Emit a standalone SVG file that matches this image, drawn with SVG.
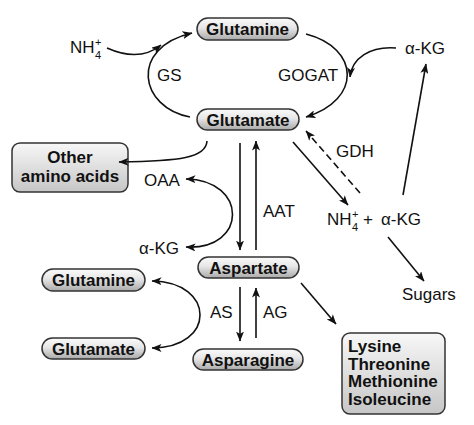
<svg xmlns="http://www.w3.org/2000/svg" width="474" height="425" viewBox="0 0 474 425">
<defs>
<linearGradient id="pillG" x1="0" y1="0" x2="0" y2="1">
<stop offset="0" stop-color="#fbfbfb"/>
<stop offset="0.45" stop-color="#e6e6e6"/>
<stop offset="1" stop-color="#a9a9a9"/>
</linearGradient>
<linearGradient id="boxG" x1="0" y1="0" x2="0" y2="1">
<stop offset="0" stop-color="#f7f7f7"/>
<stop offset="1" stop-color="#c6c6c6"/>
</linearGradient>
<marker id="ah" viewBox="0 0 10 8" refX="9.5" refY="4" markerWidth="10" markerHeight="8" markerUnits="userSpaceOnUse" orient="auto-start-reverse">
<path d="M0,0 L10,4 L0,8 L2.5,4 z" fill="#111"/>
</marker>
<style>
.pill{fill:url(#pillG);stroke:#333;stroke-width:1.5}
.box{fill:url(#boxG);stroke:#333;stroke-width:1.5}
.bt{font-family:"Liberation Sans",Arial,sans-serif;font-weight:bold;font-size:17px;fill:#111}
.t{font-family:"Liberation Sans",Arial,sans-serif;font-size:17px;fill:#111}
.s{font-family:"Liberation Sans",Arial,sans-serif;font-size:11px;fill:#111}
.c{fill:none;stroke:#111;stroke-width:1.6}
.a{marker-end:url(#ah)}
.d{marker-start:url(#ah);marker-end:url(#ah)}
</style>
</defs>
<rect width="474" height="425" fill="#fff"/>

<g id="glutamine-top"><rect class="pill" x="197" y="18" width="101" height="22" rx="11"/><text class="bt" x="247.5" y="35" text-anchor="middle">Glutamine</text></g>
<g id="glutamate-top"><rect class="pill" x="197" y="109" width="102" height="21" rx="10.5"/><text class="bt" x="248" y="126" text-anchor="middle">Glutamate</text></g>
<g id="aspartate"><rect class="pill" x="198" y="257" width="101" height="21" rx="10.5"/><text class="bt" x="248.5" y="274" text-anchor="middle">Aspartate</text></g>
<g id="glutamine-low"><rect class="pill" x="42" y="269" width="103" height="22" rx="11"/><text class="bt" x="93.5" y="286" text-anchor="middle">Glutamine</text></g>
<g id="glutamate-low"><rect class="pill" x="42" y="338" width="103" height="21" rx="10.5"/><text class="bt" x="93.5" y="355" text-anchor="middle">Glutamate</text></g>
<g id="asparagine"><rect class="pill" x="193" y="349" width="110" height="21" rx="10.5"/><text class="bt" x="248" y="366" text-anchor="middle">Asparagine</text></g>
<g id="other-amino-acids"><rect class="box" x="12" y="143" width="116" height="49" rx="8"/><text class="bt" x="70" y="163" text-anchor="middle">Other</text><text class="bt" x="70" y="182" text-anchor="middle">amino acids</text></g>
<g id="lysine-group"><rect class="box" x="342" y="333" width="103" height="81" rx="8"/>
<text class="bt" x="348" y="352">Lysine</text><text class="bt" x="348" y="369.5">Threonine</text><text class="bt" x="348" y="387">Methionine</text><text class="bt" x="348" y="404.5">Isoleucine</text></g>

<g id="nh4-top"><text class="t" x="70" y="53">NH</text><text class="s" x="95" y="46">+</text><text class="s" x="95" y="59">4</text></g>
<g id="akg-top"><text class="t" x="405" y="54">α-KG</text></g>
<g id="nh4-akg"><text class="t" x="327" y="225">NH</text><text class="s" x="352" y="218">+</text><text class="s" x="352" y="231">4</text><text class="t" x="363" y="225">+</text><text class="t" x="381" y="225">α-KG</text></g>
<g id="oaa"><text class="t" x="144" y="186">OAA</text></g>
<g id="akg-low"><text class="t" x="139" y="254">α-KG</text></g>
<g id="sugars"><text class="t" x="402" y="300">Sugars</text></g>

<g id="connectors">
<path class="c a" d="M190,117 C140,108 128,48 192,33"/>
<path class="c a" d="M107,48 C125,56 145,58 161,45"/>
<path class="c a" d="M306,34 C360,48 362,100 306,117"/>
<path class="c a" d="M396,48 C370,46 352,58 350,77"/>
<path class="c a" d="M403,195 L426,64"/>
<path class="c a" d="M207,141 C206,158 180,161 119,162"/>
<path class="c d" d="M186,179 C248,180 248,250 186,247"/>
<path class="c a" d="M240,143 L240,250"/>
<path class="c a" d="M256,250 L256,141"/>
<path class="c a" d="M293,142 L348,205"/>
<path class="c a" d="M360,193 L306,131" stroke-dasharray="7,4"/>
<path class="c a" d="M388,237 L424,281"/>
<path class="c a" d="M301,283 L336,324"/>
<path class="c a" d="M240,287 L240,341"/>
<path class="c a" d="M256,338 L256,288"/>
<path class="c d" d="M152,281 C216,282 216,348 152,348"/>
</g>
<g id="labels">
<text class="t" x="157" y="81">GS</text>
<text class="t" x="278" y="81">GOGAT</text>
<text class="t" x="336" y="157">GDH</text>
<text class="t" x="263" y="217">AAT</text>
<text class="t" x="210" y="318">AS</text>
<text class="t" x="263" y="318">AG</text>
</g>
</svg>
